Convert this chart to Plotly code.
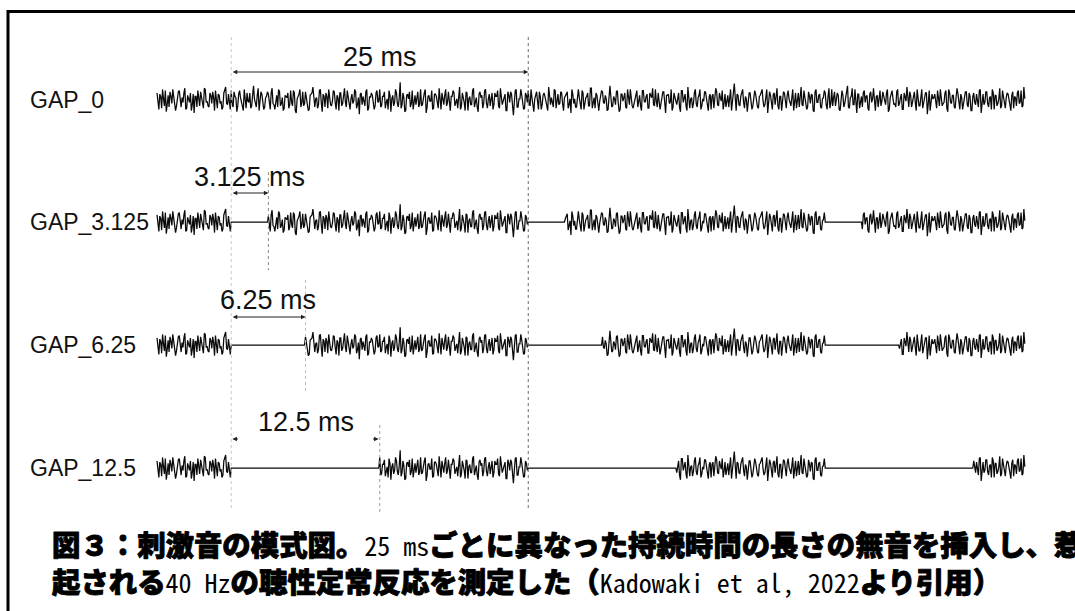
import plotly.graph_objects as go

# Carrier noise (arbitrary amplitude units) sampled at 12.8 kHz, stored as its
# even and odd samples. The same carrier is used for all four stimuli; silent
# gaps are cut into it.
noise_even = [
    6, -8, 3, 9, -5, -10, 4, 7, -3, 2, -9, 5, 8, -6, -2, 10, -7, 1, 6, -4,
    -11, 3, 8, -5, 2, -7, 9, -1, -6, 4, 7, -9, 1, 5, -3, -8, 6, 11, -4, -2,
    8, -6, 3, -10, 5, 2, -4, 9, -7, -1, 6, -5, 12, -3, 4, -9, 7, -2, -6, 3,
    5, -8, 10, -4, 1, -6, 7, -3, -9, 4, 2, -7, 8, -5, 6, -11, 3, 9, -2, -5,
    7, -3, -8, 5, 11, -6, 2, -4, 9, -10, 3, 6, -7, 1, -5, 8, -2, 4, -9, 6,
    -3, 10, -6, 2, -8, 5, -1, 7, -4, -12, 6, 3, -5, 9, -7, 2, 4, -8, 6, -2,
    9, -5, 3, -7, 1, 8, -10, 4, -2, 6, -6, 15, -4, 2, -9, 5, 7, -3, -8, 4,
    2, -6, 9, -4, 6, -11, 3, -1, 8, -7, 5, -3, 10, -8, 1, 4, -5, 7, -9, 3,
    6, -2, -7, 11, -5, 3, -9, 6, 1, -4, 8, -6, 2, -10, 7, 4, -3, 9, -7, 5,
    -1, -8, 6, 3, -5, 10, -4, 2, -9, 7, -2, 5, -13, 8, -6, 1, 9, -3, -7, 4,
    8, -5, 2, -10, 6, -1, 7, -8, 4, 3, -6, 11, -4, -2, 9, -7, 5, -3, 6, -9,
    3, 7, -4, -11, 5, 1, -6, 9, -3, 8, -8, 2, 6, -5, 10, -2, -7, 4, -9, 5,
    7, -3, 1, -8, 12, -6, 3, -4, 8, -10, 5, -1, 6, -7, 2, 9, -5, -3, 7, -6,
    4, -9, 8, -2, 5, -7, 3, 10, -5, -1, 6, -8, 2, 7, -11, 4, -3, 9, -6, 1,
    -4, 6, -10, 8, 3, -5, 11, -7, 2, -3, 9, -6, 4, -8, 1, 7, -2, -9, 5, 3,
    -7, 10, -4, 6, -1, -8, 5, 2, -6, 9, -3, 14, -9, 4, -5, 7, -2, 3, -10, 6,
    1, -5, 8, -3, -7, 4, 9, -6, 2, -11, 7, -1, 5, -4, 10, -8, 3, -2, 6, -7,
    8, -4, 2, -9, 6, 3, -6, 11, -5, 1, -8, 7, -3, 4, -10, 9, -2, 5, -7, 2,
    6, -8, 10, -3, -5, 7, -1, 4, -9, 8, -6, 2, 12, -7, 3, -4, 9, -11, 5, -2,
    -6, 8, 3, -7, 5, -2, 10, -9, 4, 1, -5, 7, -3, 6, -10, 2, 8, -4, -6, 9,
    -3, 5, -8, 2, 11, -6, 4, -1, 7, -9, 3, -5, 9, -2, 6, -12, 8, -4, 1, 5,
    -7, 3, 9, -5, -2, 8, -10, 6, -3, 4, -7, 10, -1, 5, -8, 2, 7, -6, 3, -9,
    6, -4, 1, 8, -11, 5, -2, 7, -6, 3, 9, -8, 4, -3, 10, -5, 2, -7, 6, -1,
    -9, 7, 3, -5, 8, -2, -6, 11,
]
noise_odd = [
    -2, 5, -7, 1, 8, -4, -6, 3, 9, -1, -5, 7, -3, 2, 6, -8, 4, -2, -9, 5,
    3, -6, 1, 7, -4, 10, -2, -5, 6, -3, 2, 8, -7, 4, -1, -6, 9, -3, 5, -8,
    -4, 7, 2, -5, 8, -1, -9, 3, 6, -2, -7, 4, 1, -6, 10, -3, 5, -8, 2, 7,
    -1, 6, -3, -8, 4, 9, -5, 2, -7, 3, 6, -4, -2, 8, -9, 1, 5, -6, 7, -3,
    2, -9, 4, 6, -3, 1, -7, 8, -2, 5, -6, 3, 9, -4, -1, 7, -8, 2, 6, -5,
    4, -2, 8, -6, 1, -3, 9, -7, 2, 5, -4, -1, 7, -9, 3, 6, -2, -5, 8, -1,
    -6, 3, 7, -2, -8, 4, 1, -5, 9, -3, 2, -7, 6, -10, 4, 1, -6, 8, -2, -4,
    7, -3, -5, 2, 9, -6, 4, -1, -8, 5, 3, -7, 1, 6, -4, 9, -2, -6, 3, 8,
    -5, 1, 4, -8, 6, -2, 7, -9, 3, -4, 10, -1, -6, 5, 2, -7, 8, -3, 1, -5,
    6, -4, 3, 8, -7, 2, -1, 5, -9, 4, 7, -3, -2, 9, -6, 1, 4, -8, 6, -2,
    -3, 9, -5, 1, 7, -8, 3, -4, 6, -2, -9, 5, 2, -6, 8, -1, -4, 7, -3, 2,
    5, -7, 1, 9, -3, -6, 4, 2, -8, 6, -1, 3, -5, 10, -7, 2, 6, -4, -1, 8,
    -2, 4, -9, 6, 3, -5, 1, 7, -3, -8, 5, 2, -6, 9, -4, 1, -7, 3, 8, -2,
    -5, 8, -1, 3, -7, 6, 2, -4, 9, -6, 1, -3, 7, -8, 4, 5, -2, -9, 6, -1,
    3, -6, 8, -2, 5, -9, 4, 1, -7, 6, -3, 2, 9, -5, -1, 7, -4, 3, -8, 5,
    -1, 7, -5, 2, 8, -3, -6, 4, 1, -9, 6, -2, 5, -4, 3, 9, -7, 1, -3, 6,
    -8, 2, 5, -6, 3, 7, -1, -4, 9, -2, 4, -8, 6, 1, -5, 3, -9, 7, -2, 4,
    1, -5, 9, -3, -7, 6, 2, -4, 8, -1, -6, 3, 5, -9, 7, -2, 4, -6, 1, 8,
    -4, 3, -7, 9, 2, -5, 6, -8, 1, 4, -3, 7, -6, 2, 10, -4, -1, 5, -7, 3,
    6, -2, 4, -9, 7, 1, -5, 3, -6, 8, -1, 2, -4, 9, -8, 5, 1, -3, 7, -5,
    2, -8, 6, -1, 4, 7, -6, 3, -2, 9, -5, 1, -7, 4, 6, -3, -9, 5, 2, -4,
    8, -5, 1, -3, 6, -7, 9, -2, 4, -6, 3, 5, -8, 2, -1, 7, -4, 6, -9, 3,
    -2, 5, -6, 9, -1, -4, 7, -3, 2, -8, 6, 4, -5, 1, -7, 8, -3, 2, 5, -6,
    4, -7, 2, 6, -3, 8, -5, 1,
]
SAMPLE_MS = 0.078125  # 12.8 kHz sampling interval

row_labels = ["GAP_0", "GAP_3.125", "GAP_6.25", "GAP_12.5"]
gap_ms = [0.0, 3.125, 6.25, 12.5]
gap_onsets_ms = [6.25, 31.25, 56.25]
period_ms = 25.0

W, H = 1075, 611
row_center_px = [100, 222, 345, 468]
ROW_HALF_PX = 40
AMP_RANGE = 34


def py(px):
    """Paper y coordinate from a pixel offset measured from the top."""
    return 1 - px / H


def px_x(px):
    return px / W


noise = [v for pair in zip(noise_even, noise_odd) for v in pair]
t_ms = [i * SAMPLE_MS for i in range(len(noise))]

fig = go.Figure()
layout_axes = {}
for k, (label, gap) in enumerate(zip(row_labels, gap_ms)):
    wave = []
    for t, v in zip(t_ms, noise):
        silent = any(on <= t < on + gap for on in gap_onsets_ms)
        wave.append(0 if silent else v)
    yname = "y" if k == 0 else f"y{k + 1}"
    fig.add_trace(go.Scatter(
        x=t_ms, y=wave, mode="lines", yaxis=yname, hoverinfo="skip",
        line=dict(color="#0a0a0a", width=1.25), showlegend=False,
    ))
    c = row_center_px[k]
    key = "yaxis" if k == 0 else f"yaxis{k + 1}"
    layout_axes[key] = dict(
        domain=[py(c + ROW_HALF_PX), py(c - ROW_HALF_PX)],
        range=[-AMP_RANGE, AMP_RANGE], visible=False, fixedrange=True,
    )
    fig.add_annotation(
        text=label, xref="paper", yref="paper", x=px_x(28), y=py(c),
        xanchor="left", yanchor="middle", showarrow=False,
        font=dict(family="Liberation Sans, Arial", size=23, color="#111"),
    )

# Vertical dashed guides at gap onsets / offsets
first_gap = gap_onsets_ms[0]
guides = [
    (first_gap, 37, 510, "#c8c8c8"),
    (first_gap + period_ms, 37, 510, "#6e6e6e"),
    (first_gap + gap_ms[1], 172, 270, "#8a8a8a"),
    (first_gap + gap_ms[2], 280, 392, "#bdbdbd"),
    (first_gap + gap_ms[3], 425, 512, "#9a9a9a"),
]
for gx, top, bot, col in guides:
    fig.add_shape(type="line", xref="x", yref="paper", x0=gx, x1=gx,
                  y0=py(top), y1=py(bot),
                  line=dict(color=col, width=1, dash="3px,3px"))

# Outer frame
fig.add_shape(type="rect", xref="paper", yref="paper",
              x0=px_x(8), x1=1.05, y0=py(11.5), y1=-0.05,
              line=dict(color="black", width=3), fillcolor="rgba(0,0,0,0)")

# Duration arrows and their labels
ARROW = dict(arrowhead=2, arrowsize=0.9, arrowwidth=1, arrowcolor="#222")
LBL_FONT = dict(family="Liberation Sans, Arial", size=27, color="#111")


def span_arrow(x0, x1, ypx):
    fig.add_annotation(text="", x=x1, y=py(ypx), xref="x", yref="paper",
                       ax=x0, ay=0, axref="x", ayref="pixel",
                       showarrow=True, arrowside="end+start", **ARROW)


span_arrow(first_gap, first_gap + period_ms, 72)
span_arrow(first_gap, first_gap + gap_ms[1], 193)
span_arrow(first_gap, first_gap + gap_ms[2], 317)
# the longest gap is marked only by its two arrow heads
fig.add_annotation(text="", x=first_gap + 0.1, y=py(439), xref="x", yref="paper",
                   ax=7, ay=0, showarrow=True, **ARROW)
fig.add_annotation(text="", x=first_gap + gap_ms[3] - 0.1, y=py(439), xref="x",
                   yref="paper", ax=-7, ay=0, showarrow=True, **ARROW)

span_labels = [
    ("25 ms", first_gap + period_ms / 2, 57),
    ("3.125 ms", first_gap + gap_ms[1] / 2, 177),
    ("6.25 ms", first_gap + gap_ms[2] / 2, 300),
    ("12.5 ms", first_gap + gap_ms[3] / 2, 422),
]
for txt, xc, ypx in span_labels:
    fig.add_annotation(text=txt, x=xc, y=py(ypx), xref="x", yref="paper",
                       xanchor="center", yanchor="middle", showarrow=False,
                       font=LBL_FONT)

# Caption: heavy gothic Japanese with half-width Latin runs
def jp(s):
    return ("<span style=\"stroke:#000;stroke-width:0.9px;"
            "stroke-linejoin:round\">" + s + "</span>")


def lat(s):
    return ("<span style=\"font-family:'Noto Sans Mono CJK JP','Liberation Mono',"
            "monospace;font-weight:400;font-size:26px;stroke:none\">"
            + s + "</span>")


cap1 = jp("図３：刺激音の模式図。") + lat("25 ms") + \
    jp("ごとに異なった持続時間の長さの無音を挿入し、惹")
cap2 = jp("起される") + lat("40 Hz") + jp("の聴性定常反応を測定した（") + \
    lat("Kadowaki et al, 2022") + jp("より引用）")
CAP_FONT = dict(family="Noto Sans CJK JP", size=28.4, color="black", weight=900)
fig.add_annotation(text=cap1 + "<br>" + cap2, xref="paper", yref="paper",
                   x=px_x(50), y=py(562), xanchor="left", yanchor="middle",
                   align="left", showarrow=False, font=CAP_FONT)

fig.update_layout(
    width=W, height=H, margin=dict(l=0, r=0, t=0, b=0),
    paper_bgcolor="white", plot_bgcolor="white", showlegend=False,
    xaxis=dict(range=[-157 / 11.88, (W - 157) / 11.88], visible=False,
               fixedrange=True),
    **layout_axes,
)

fig.write_html("out.html")
